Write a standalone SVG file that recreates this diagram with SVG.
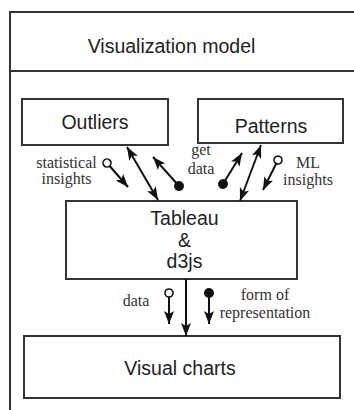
<svg xmlns="http://www.w3.org/2000/svg" width="354" height="410" viewBox="0 0 354 410">
<defs>
<style>
.box{fill:#fff;stroke:#333;stroke-width:2}
.frame{fill:none;stroke:#333;stroke-width:2}
.t{font-family:"Liberation Sans",Arial,sans-serif;font-size:19.5px;fill:#222;text-anchor:middle}
.s{font-family:"Liberation Serif","Times New Roman",serif;font-size:16px;fill:#333;text-anchor:middle}
.c{fill:none;stroke:#111;stroke-width:2}
</style>
<marker id="ah" markerUnits="userSpaceOnUse" viewBox="0 0 13 10" refX="13" refY="5" markerWidth="13" markerHeight="10" orient="auto-start-reverse">
<path d="M0,0 L13,5 L0,10 L3,5 z" fill="#111"/>
</marker>
<marker id="oc" markerUnits="userSpaceOnUse" viewBox="-6 -6 12 12" refX="0" refY="0" markerWidth="12" markerHeight="12" orient="auto">
<circle r="4" fill="#fff" stroke="#111" stroke-width="1.6"/>
</marker>
<marker id="fc" markerUnits="userSpaceOnUse" viewBox="-6 -6 12 12" refX="0" refY="0" markerWidth="12" markerHeight="12" orient="auto">
<circle r="5" fill="#111"/>
</marker>
</defs>
<g id="frame">
<path class="frame" d="M356,12 H10 V412"/>
<path class="frame" d="M10,71 H356"/>
<text class="t" x="171.5" y="53" font-size="20">Visualization model</text>
</g>
<g id="outliers">
<rect class="box" x="22" y="99" width="146" height="46"/>
<text class="t" x="95" y="129">Outliers</text>
</g>
<g id="patterns">
<rect class="box" x="198" y="99" width="145" height="44"/>
<text class="t" x="271" y="133">Patterns</text>
</g>
<g id="tableau">
<rect class="box" x="66" y="201" width="231" height="78"/>
<text class="t" x="184.5" y="225">Tableau</text>
<text class="t" x="184.5" y="247">&amp;</text>
<text class="t" x="184.5" y="268">d3js</text>
</g>
<g id="visual-charts">
<rect class="box" x="24" y="336" width="316" height="62"/>
<text class="t" x="180" y="375">Visual charts</text>
</g>
<g id="connectors">
<path class="c" d="M107,163 L128,187" marker-start="url(#oc)" marker-end="url(#ah)"/>
<path class="c" d="M127,147 L158,200" marker-start="url(#ah)" marker-end="url(#ah)"/>
<path class="c" d="M179,186 L153,157" marker-start="url(#fc)" marker-end="url(#ah)"/>
<path class="c" d="M223,184 L242,153" marker-start="url(#fc)" marker-end="url(#ah)"/>
<path class="c" d="M261,145 L240,201" marker-start="url(#ah)" marker-end="url(#ah)"/>
<path class="c" d="M278,160 L263,190" marker-start="url(#oc)" marker-end="url(#ah)"/>
<path class="c" d="M169,293 L169,324" marker-start="url(#oc)" marker-end="url(#ah)"/>
<path class="c" d="M186,279 L186,336" marker-end="url(#ah)"/>
<path class="c" d="M209,293 L209,324" marker-start="url(#fc)" marker-end="url(#ah)"/>
</g>
<g id="labels">
<text class="s" x="66.5" y="168">statistical</text>
<text class="s" x="66.5" y="184">insights</text>
<text class="s" x="201" y="155">get</text>
<text class="s" x="201" y="174">data</text>
<text class="s" x="308" y="168">ML</text>
<text class="s" x="308" y="185">insights</text>
<text class="s" x="136" y="306">data</text>
<text class="s" x="265" y="300">form of</text>
<text class="s" x="265" y="318">representation</text>
</g>
</svg>
